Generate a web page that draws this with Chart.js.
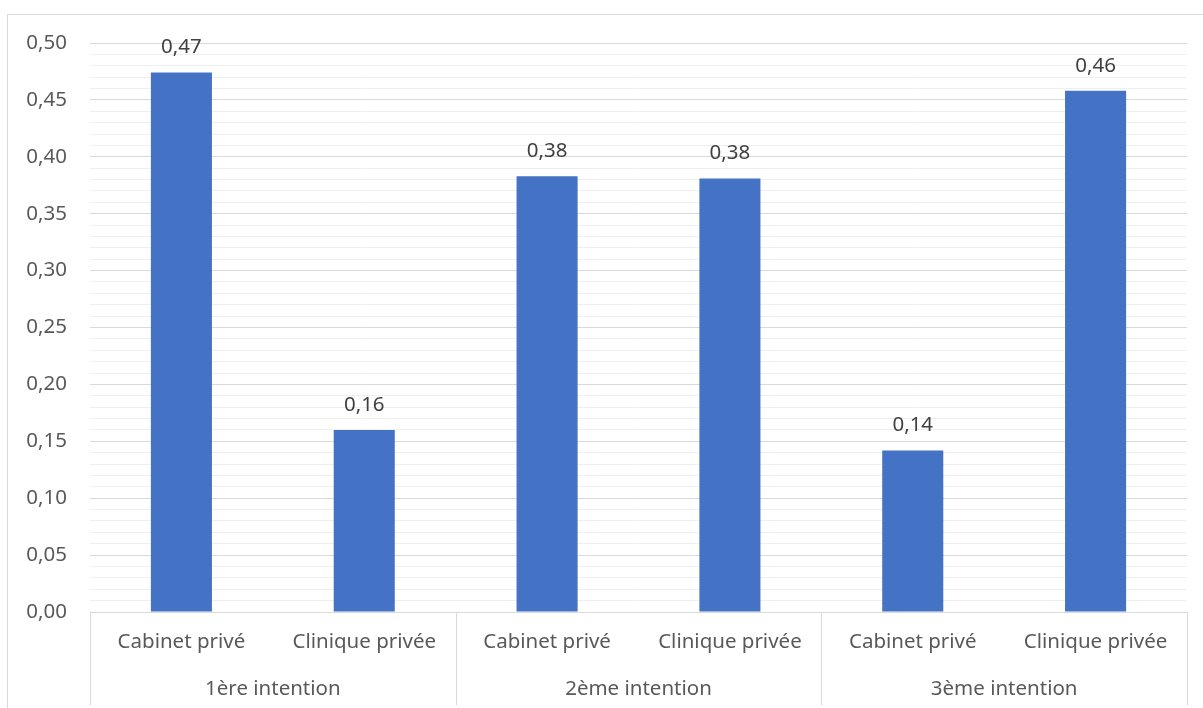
<!DOCTYPE html>
<html>
<head>
<meta charset="utf-8">
<script src="https://cdn.jsdelivr.net/npm/chart.js@4/dist/chart.umd.min.js"></script>
<style>
  html, body { margin: 0; padding: 0; background: #ffffff; }
  #wrap { width: 1203px; height: 708px; position: relative; }
</style>
</head>
<body>
<div id="wrap"><canvas id="c" width="1203" height="708"></canvas></div>
<script>
const categories = ['Cabinet privé', 'Clinique privée', 'Cabinet privé', 'Clinique privée', 'Cabinet privé', 'Clinique privée'];
const groups = ['1ère intention', '2ème intention', '3ème intention'];
const groupSize = [2, 2, 2];
const values = [0.474, 0.160, 0.383, 0.381, 0.142, 0.458];
const yMin = 0, yMax = 0.5, yMinorStep = 0.01, yMajorStep = 0.05;

const FONT = '"Noto Sans", "Open Sans", sans-serif';
const FS = 20.5;
const fmt = v => v.toFixed(2).replace('.', ',');

const decorPlugin = {
  id: 'decor',
  beforeDraw(chart) {
    const ctx = chart.ctx;
    ctx.save();
    ctx.strokeStyle = '#d9d9d9';
    ctx.lineWidth = 1;
    ctx.strokeRect(7.5, 14.5, 1220, 720);
    ctx.restore();
  },
  afterDraw(chart) {
    const ctx = chart.ctx;
    const xs = chart.scales.x;
    const area = chart.chartArea;
    const meta = chart.getDatasetMeta(0);
    ctx.save();
    // data labels
    ctx.fillStyle = '#404040';
    ctx.font = FS + 'px ' + FONT;
    ctx.textAlign = 'center';
    ctx.textBaseline = 'middle';
    meta.data.forEach((bar, i) => {
      ctx.fillText(fmt(values[i]), bar.x, bar.y - 25);
    });
    // group separators & labels
    ctx.strokeStyle = '#d9d9d9';
    ctx.lineWidth = 1;
    const bottom = 705;
    const edges = [area.left];
    let idx = 0;
    groupSize.forEach((n) => {
      idx += n;
      if (idx < categories.length) {
        edges.push((xs.getPixelForValue(idx - 1) + xs.getPixelForValue(idx)) / 2);
      } else {
        edges.push(area.right);
      }
    });
    edges.forEach(x => {
      const px = Math.round(x) + 0.5;
      ctx.beginPath();
      ctx.moveTo(px, area.bottom);
      ctx.lineTo(px, bottom);
      ctx.stroke();
    });
    ctx.fillStyle = '#595959';
    ctx.font = FS + 'px ' + FONT;
    groups.forEach((g, i) => {
      ctx.fillText(g, (edges[i] + edges[i + 1]) / 2, 689);
    });
    ctx.restore();
  }
};

new Chart(document.getElementById('c'), {
  type: 'bar',
  data: {
    labels: categories,
    datasets: [{
      data: values,
      backgroundColor: '#4472c4',
      borderWidth: 0,
      barPercentage: 0.334,
      categoryPercentage: 1.0
    }]
  },
  options: {
    responsive: false,
    animation: false,
    events: [],
    layout: { padding: { left: 0, top: 43, right: 16, bottom: 0 } },
    plugins: { legend: { display: false }, tooltip: { enabled: false }, title: { display: false } },
    scales: {
      x: {
        grid: { display: false, drawTicks: false },
        border: { display: true, color: '#d9d9d9', width: 1 },
        ticks: { color: '#595959', font: { family: FONT, size: FS }, padding: 18, maxRotation: 0, autoSkip: false },
        afterFit(scale) { scale.height = 96; }
      },
      y: {
        min: yMin, max: yMax,
        grid: {
          drawTicks: false,
          color: ctx => {
            const v = ctx.tick ? ctx.tick.value : 0;
            return Math.abs(Math.round(v / yMinorStep) % Math.round(yMajorStep / yMinorStep)) === 0 ? '#d9d9d9' : '#efefef';
          }
        },
        border: { display: false },
        ticks: {
          stepSize: yMinorStep,
          autoSkip: false,
          color: '#595959',
          font: { family: FONT, size: FS },
          padding: 23,
          callback: v => (Math.round(v / yMinorStep) % Math.round(yMajorStep / yMinorStep) === 0) ? fmt(v) : ''
        },
        afterFit(scale) { scale.width = 90; }
      }
    }
  },
  plugins: [decorPlugin]
});
</script>
</body>
</html>
